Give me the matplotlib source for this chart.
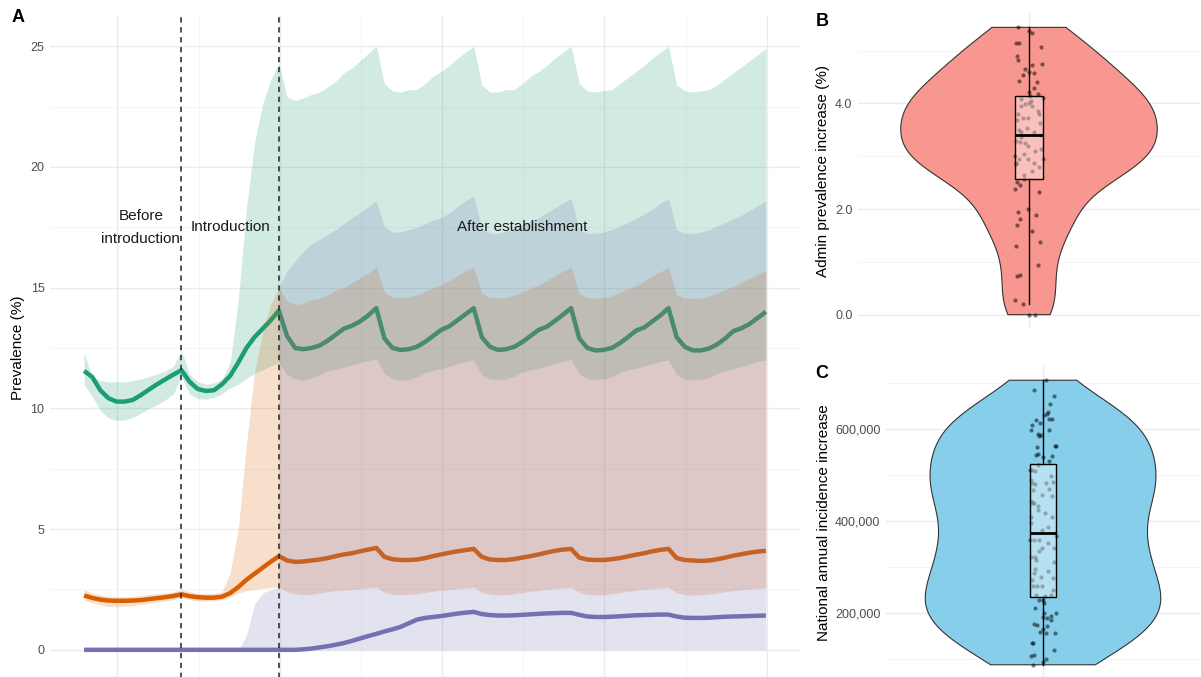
import numpy as np
import matplotlib
matplotlib.use("Agg")
import matplotlib.pyplot as plt
from matplotlib.ticker import FuncFormatter, MultipleLocator, FixedLocator

plt.rcParams['font.family'] = ['Liberation Sans', 'DejaVu Sans']

# ---- panel A data: monthly prevalence (%) ----
months = np.arange(85)

green_med = [11.55, 11.3, 10.75, 10.42, 10.28, 10.28, 10.35, 10.55, 10.78, 11.0, 11.2, 11.4, 11.58,
             11.1, 10.8, 10.72, 10.75, 11.0, 11.35, 11.9, 12.5, 12.95, 13.3, 13.65, 14.05,
             13.0, 12.5, 12.45, 12.5, 12.6, 12.8, 13.05, 13.3, 13.42, 13.6, 13.85, 14.15,
             12.9, 12.5, 12.42, 12.45, 12.55, 12.75, 13.0, 13.25, 13.4, 13.65, 13.9, 14.15,
             12.95, 12.55, 12.42, 12.45, 12.55, 12.75, 13.0, 13.25, 13.38, 13.62, 13.88, 14.15,
             12.9, 12.5, 12.4, 12.42, 12.5, 12.7, 12.95, 13.22, 13.35, 13.6, 13.85, 14.15,
             12.95, 12.55, 12.4, 12.4, 12.48, 12.65, 12.9, 13.2, 13.32, 13.5, 13.75, 14.0]
green_lo = [11.0, 10.5, 9.9, 9.6, 9.5, 9.52, 9.62, 9.8, 10.0, 10.15, 10.35, 10.6, 11.3,
            10.6, 10.4, 10.38, 10.45, 10.6, 10.85, 11.0, 11.25, 11.45, 11.6, 11.75, 11.9,
            11.4, 11.22, 11.17, 11.25, 11.4, 11.55, 11.62, 11.7, 11.8, 11.9, 11.98, 12.05,
            11.45, 11.22, 11.17, 11.2, 11.3, 11.48, 11.58, 11.65, 11.75, 11.85, 11.95, 12.0,
            11.4, 11.22, 11.2, 11.22, 11.32, 11.5, 11.6, 11.66, 11.76, 11.86, 11.95, 12.02,
            11.42, 11.22, 11.2, 11.22, 11.3, 11.48, 11.6, 11.66, 11.75, 11.85, 11.95, 12.0,
            11.4, 11.2, 11.18, 11.2, 11.28, 11.45, 11.56, 11.64, 11.74, 11.84, 11.94, 12.0]
green_hi = [12.3, 11.3, 11.15, 11.1, 11.1, 11.1, 11.15, 11.22, 11.32, 11.42, 11.55, 11.75, 12.4,
            11.4, 11.1, 11.0, 11.05, 11.2, 11.9, 14.5, 18.3, 21.0, 22.6, 23.6, 24.3,
            22.9, 22.75, 22.85, 23.0, 23.1, 23.3, 23.55, 23.9, 24.1, 24.4, 24.7, 25.0,
            23.45, 23.15, 23.1, 23.2, 23.2, 23.45, 23.75, 23.95, 24.2, 24.5, 24.75, 25.0,
            23.4, 23.1, 23.1, 23.2, 23.2, 23.45, 23.75, 23.95, 24.2, 24.5, 24.75, 25.0,
            23.45, 23.15, 23.1, 23.15, 23.2, 23.45, 23.7, 23.95, 24.2, 24.5, 24.75, 25.0,
            23.4, 23.15, 23.1, 23.15, 23.2, 23.4, 23.65, 23.9, 24.15, 24.4, 24.65, 24.9]

orange_med = [2.25, 2.15, 2.08, 2.04, 2.03, 2.03, 2.04, 2.06, 2.1, 2.14, 2.18, 2.23, 2.3,
              2.22, 2.18, 2.16, 2.16, 2.2, 2.35, 2.6, 2.9, 3.15, 3.4, 3.65, 3.88,
              3.7, 3.64, 3.66, 3.7, 3.74, 3.8, 3.88, 3.95, 4.0, 4.08, 4.15, 4.22,
              3.85, 3.75, 3.72, 3.72, 3.74, 3.8, 3.88, 3.95, 4.02, 4.08, 4.13, 4.18,
              3.85, 3.74, 3.72, 3.72, 3.76, 3.82, 3.88, 3.95, 4.03, 4.1, 4.15, 4.18,
              3.82, 3.74, 3.72, 3.72, 3.75, 3.8, 3.87, 3.94, 4.0, 4.08, 4.14, 4.18,
              3.8, 3.72, 3.7, 3.68, 3.7, 3.75, 3.82, 3.9, 3.96, 4.02, 4.07, 4.1]
orange_lo = [2.05, 1.95, 1.86, 1.8, 1.78, 1.8, 1.83, 1.88, 1.93, 1.98, 2.03, 2.08, 2.15,
             2.08, 2.03, 2.02, 2.03, 2.08, 2.2, 2.35, 2.45, 2.5, 2.55, 2.58, 2.6,
             2.4, 2.32, 2.28, 2.3, 2.35, 2.4, 2.45, 2.48, 2.5, 2.53, 2.57, 2.6,
             2.38, 2.3, 2.28, 2.29, 2.33, 2.38, 2.43, 2.47, 2.5, 2.53, 2.57, 2.6,
             2.38, 2.3, 2.27, 2.28, 2.32, 2.37, 2.42, 2.46, 2.5, 2.53, 2.57, 2.6,
             2.37, 2.29, 2.27, 2.28, 2.32, 2.37, 2.42, 2.46, 2.5, 2.53, 2.56, 2.6,
             2.36, 2.28, 2.26, 2.27, 2.31, 2.36, 2.41, 2.45, 2.49, 2.52, 2.55, 2.58]
orange_hi = [2.5, 2.35, 2.28, 2.22, 2.2, 2.2, 2.22, 2.25, 2.28, 2.32, 2.36, 2.4, 2.5,
             2.4, 2.35, 2.33, 2.33, 2.4, 3.2, 5.0, 8.5, 11.5, 13.2, 14.3, 15.0,
             14.45, 14.3, 14.35, 14.5, 14.55, 14.7, 14.9, 15.0, 15.2, 15.4, 15.6, 15.85,
             14.8, 14.6, 14.58, 14.62, 14.7, 14.85, 15.0, 15.1, 15.3, 15.5, 15.7, 15.85,
             14.78, 14.58, 14.57, 14.6, 14.68, 14.83, 14.98, 15.1, 15.3, 15.5, 15.68, 15.85,
             14.75, 14.58, 14.56, 14.6, 14.66, 14.8, 14.95, 15.08, 15.28, 15.48, 15.66, 15.82,
             14.72, 14.57, 14.55, 14.58, 14.64, 14.78, 14.92, 15.05, 15.22, 15.4, 15.56, 15.72]

purple_med = [0.0] * 25 + [
              0.0, 0.0, 0.02, 0.05, 0.1, 0.15, 0.21, 0.28, 0.37, 0.47, 0.57, 0.66,
              0.76, 0.85, 0.95, 1.1, 1.25, 1.32, 1.36, 1.4, 1.45, 1.5, 1.54, 1.57,
              1.48, 1.44, 1.42, 1.42, 1.43, 1.45, 1.47, 1.49, 1.51, 1.52, 1.53, 1.53,
              1.45, 1.38, 1.36, 1.36, 1.37, 1.39, 1.41, 1.43, 1.44, 1.45, 1.46, 1.46,
              1.38, 1.33, 1.32, 1.32, 1.33, 1.35, 1.37, 1.38, 1.39, 1.4, 1.41, 1.42]
purple_lo = [0.0] * 85
# upper bound is reported separately for the introduction and post-establishment periods
purple_hi_intro = [0.0] * 20 + [0.6, 1.9, 2.35, 2.5, 2.57]
purple_hi_after = [15.0, 15.7, 16.1, 16.5, 16.8, 17.0, 17.2, 17.4, 17.65, 17.9, 18.1, 18.35, 18.6,
                   17.5, 17.3, 17.3, 17.4, 17.5, 17.65, 17.8, 17.9, 18.1, 18.35, 18.6, 18.8,
                   17.45, 17.25, 17.25, 17.35, 17.45, 17.6, 17.75, 17.9, 18.1, 18.3, 18.5, 18.7,
                   17.4, 17.25, 17.25, 17.3, 17.4, 17.55, 17.7, 17.85, 18.05, 18.25, 18.5, 18.7,
                   17.4, 17.25, 17.25, 17.3, 17.4, 17.55, 17.7, 17.85, 18.0, 18.2, 18.4, 18.6]

phase_breaks = [12, 24]
phase_labels = ["Before\nintroduction", "Introduction", "After establishment"]
phase_label_x = [7, 18, 54]

# ---- panels B and C data ----
admin_increase = [5.44, 5.38, 5.33, 5.15, 5.14, 5.06, 4.90, 4.83, 4.75, 4.73,
                  4.65, 4.59, 4.58, 4.54, 4.43, 4.40, 4.30, 4.22, 4.18, 4.14,
                  4.11, 4.09, 4.05, 4.00, 3.98, 3.95, 3.95, 3.85, 3.79, 3.79,
                  3.73, 3.73, 3.68, 3.62, 3.54, 3.50, 3.45, 3.45, 3.41, 3.36,
                  3.29, 3.27, 3.25, 3.19, 3.13, 3.10, 3.05, 3.01, 2.95, 2.95,
                  2.94, 2.87, 2.87, 2.86, 2.80, 2.72, 2.65, 2.56, 2.51, 2.45,
                  2.38, 2.33, 2.00, 1.95, 1.88, 1.81, 1.70, 1.59, 1.38, 1.30,
                  0.94, 0.76, 0.73, 0.27, 0.20, 0.00, 0.00]
national_increase = [88, 95, 101, 106, 110, 120, 136, 136, 156, 156, 159, 165, 172, 175, 177,
                     185, 189, 191, 193, 201, 201, 212, 222, 229, 229,
                     238, 240, 240, 251, 258, 258, 258, 272, 276, 278, 287, 291, 296, 312,
                     316, 323, 323, 336, 341, 341, 352, 359, 359, 359, 367,
                     381, 388, 395, 409, 410, 417, 425, 432, 439, 439, 443, 455, 457, 468,
                     470, 481, 483, 483, 486, 490, 497, 508, 512, 512, 522,
                     530, 539, 542, 544, 546, 562, 564, 564, 584, 588, 590, 597, 598, 609,
                     613, 620, 622, 622, 631, 633, 636, 655, 672, 684, 706]
national_increase = [v * 1000 for v in national_increase]

GREEN, ORANGE, PURPLE = "#1B9E77", "#D95F02", "#7570B3"
GRID_MAJ, GRID_MIN = "#EBEBEB", "#F4F4F4"

W, H = 1201, 677
fig = plt.figure(figsize=(W / 100, H / 100), dpi=100)


def add_px_axes(left, top, right, bottom):
    return fig.add_axes([left / W, 1 - bottom / H, (right - left) / W, (bottom - top) / H])


def style_axes(ax):
    for s in ax.spines.values():
        s.set_visible(False)
    ax.set_axisbelow(True)
    ax.tick_params(which="both", length=0, labelsize=9, labelcolor="#4D4D4D", pad=4)
    ax.grid(which="major", color=GRID_MAJ, lw=1.0)
    ax.grid(which="minor", color=GRID_MIN, lw=0.7)


# ---------------- panel A ----------------
axA = add_px_axes(50, 16, 800, 680)
style_axes(axA)
axA.set_xlim(-4.2, 88.2)
axA.set_ylim(-1.25, 26.25)
axA.yaxis.set_major_locator(MultipleLocator(5))
axA.yaxis.set_minor_locator(MultipleLocator(2.5))
axA.xaxis.set_major_locator(FixedLocator([4.1, 24.1, 44.1, 64.1, 84.1]))
axA.xaxis.set_minor_locator(FixedLocator([14.1, 34.1, 54.1, 74.1]))
axA.tick_params(axis="x", which="both", labelbottom=False)

for med, col in [(green_med, GREEN), (orange_med, ORANGE), (purple_med, PURPLE)]:
    axA.plot(months, med, color=col, lw=3.2, solid_capstyle="butt", zorder=2)

axA.fill_between(months, green_lo, green_hi, color=GREEN, alpha=0.2, lw=0, zorder=3)
axA.fill_between(months, orange_lo, orange_hi, color=ORANGE, alpha=0.2, lw=0, zorder=3)
axA.fill_between(months[:25], purple_lo[:25], purple_hi_intro, color=PURPLE, alpha=0.2, lw=0, zorder=3)
axA.fill_between(months[24:], purple_lo[24:], purple_hi_after, color=PURPLE, alpha=0.2, lw=0, zorder=3)

for b in phase_breaks:
    axA.axvline(b, color="#222222", lw=1.1, ls=(0, (3.5, 3)), zorder=4)
for lab, x in zip(phase_labels, phase_label_x):
    axA.text(x, 17.5, lab, ha="center", va="center", fontsize=11, color="#1A1A1A",
             linespacing=1.8, zorder=5)

axA.set_ylabel("Prevalence (%)", fontsize=11)
axA.yaxis.set_label_coords(-0.033, 0.5)
fig.text(18 / W, 1 - 18 / H, "A", fontsize=13, fontweight="bold", ha="center", va="center")


# ---------------- violins ----------------
def draw_violin(ax, values, fill, box_alpha=0.4):
    v = np.asarray(values, dtype=float)
    n = len(v)
    q1, q3 = np.percentile(v, [25, 75])
    bw = 0.9 * min(v.std(ddof=1), (q3 - q1) / 1.34) * n ** -0.2
    grid = np.linspace(v.min(), v.max(), 512)
    dens = np.exp(-0.5 * ((grid[:, None] - v[None, :]) / bw) ** 2).sum(axis=1)
    half = 0.45 * dens / dens.max()
    xs = np.concatenate([1 - half, (1 + half)[::-1]])
    ys = np.concatenate([grid, grid[::-1]])
    ax.fill(xs, ys, facecolor=fill, edgecolor="#333333", lw=0.8, zorder=2)

    rng = np.random.default_rng(11)
    jit = rng.uniform(-0.05, 0.05, n)
    ax.scatter(1 + jit, v, s=9, color="black", alpha=0.5, lw=0, zorder=3)

    ax.boxplot([v], positions=[1], widths=0.1, whis=1.5, showfliers=False,
               showcaps=False, patch_artist=True, manage_ticks=False, zorder=4,
               boxprops=dict(facecolor=(1, 1, 1, box_alpha), edgecolor="black", lw=1.0),
               whiskerprops=dict(color="black", lw=1.0),
               medianprops=dict(color="black", lw=2.0))
    lo, hi = v.min(), v.max()
    pad = 0.05 * (hi - lo)
    ax.set_ylim(lo - pad, hi + pad)
    ax.set_xlim(0.4, 1.6)
    ax.set_xticks([1])
    ax.tick_params(axis="x", labelbottom=False)


# ---------------- panel B ----------------
axB = add_px_axes(858, 13, 1200, 329)
style_axes(axB)
draw_violin(axB, admin_increase, "#F8978F")
axB.yaxis.set_major_locator(MultipleLocator(2))
axB.yaxis.set_minor_locator(MultipleLocator(1))
axB.yaxis.set_major_formatter(FuncFormatter(lambda v, p: f"{v:.1f}"))
axB.set_ylabel("Admin prevalence increase (%)", fontsize=11)
axB.yaxis.set_label_coords((830 - 858) / 342, 0.5)
fig.text(822 / W, 1 - 22 / H, "B", fontsize=13, fontweight="bold", ha="center", va="center")

# ---------------- panel C ----------------
axC = add_px_axes(886, 366, 1200, 679)
style_axes(axC)
draw_violin(axC, national_increase, "#87CEEB")
axC.yaxis.set_major_locator(MultipleLocator(200000))
axC.yaxis.set_minor_locator(MultipleLocator(100000))
axC.yaxis.set_major_formatter(FuncFormatter(lambda v, p: f"{int(round(v)):,}"))
axC.set_ylabel("National annual incidence increase", fontsize=11)
axC.yaxis.set_label_coords((831 - 886) / 314, 0.5)
fig.text(822 / W, 1 - 373 / H, "C", fontsize=13, fontweight="bold", ha="center", va="center")

fig.savefig("out.png", dpi=100)
